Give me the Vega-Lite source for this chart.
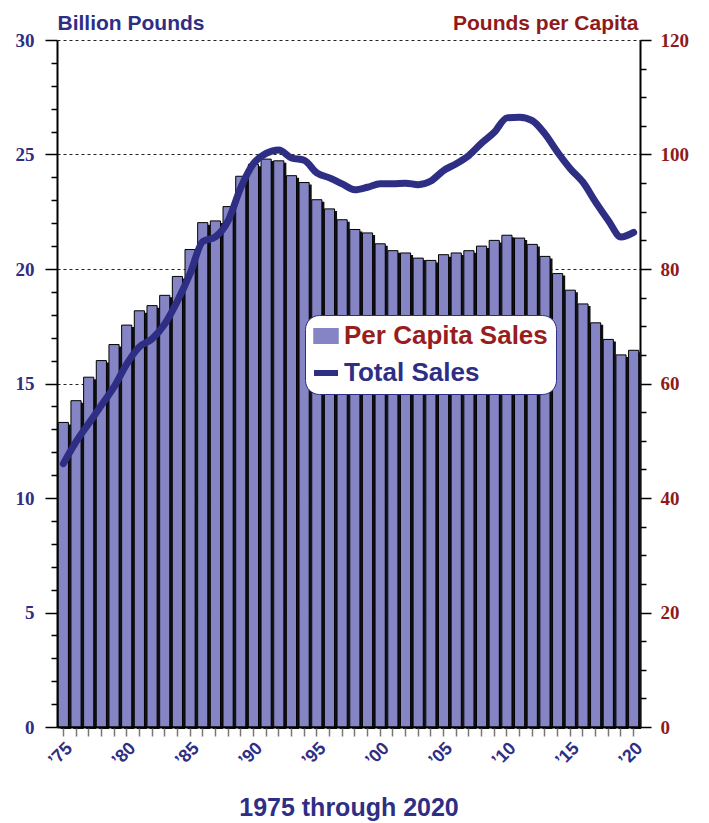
{
  "$schema": "https://vega.github.io/schema/vega-lite/v6.json",
  "width": 583,
  "height": 687,
  "autosize": {"type": "none"},
  "padding": {"left": 57, "top": 40, "right": 69, "bottom": 96},
  "background": "white",
  "config": {"view": {"stroke": null}},
  "data": {"values": [
    {"year": 1975, "perCapita": 53.2, "total": 11.5},
    {"year": 1976, "perCapita": 57.0, "total": 12.45},
    {"year": 1977, "perCapita": 61.1, "total": 13.25},
    {"year": 1978, "perCapita": 64.0, "total": 14.05},
    {"year": 1979, "perCapita": 66.8, "total": 14.85},
    {"year": 1980, "perCapita": 70.2, "total": 15.85},
    {"year": 1981, "perCapita": 72.7, "total": 16.6},
    {"year": 1982, "perCapita": 73.6, "total": 16.95},
    {"year": 1983, "perCapita": 75.4, "total": 17.6},
    {"year": 1984, "perCapita": 78.7, "total": 18.6},
    {"year": 1985, "perCapita": 83.4, "total": 19.8},
    {"year": 1986, "perCapita": 88.1, "total": 21.2},
    {"year": 1987, "perCapita": 88.4, "total": 21.4},
    {"year": 1988, "perCapita": 90.9, "total": 22.1},
    {"year": 1989, "perCapita": 96.2, "total": 23.55},
    {"year": 1990, "perCapita": 98.3, "total": 24.6},
    {"year": 1991, "perCapita": 99.2, "total": 25.05},
    {"year": 1992, "perCapita": 98.9, "total": 25.2},
    {"year": 1993, "perCapita": 96.3, "total": 24.85},
    {"year": 1994, "perCapita": 95.1, "total": 24.75},
    {"year": 1995, "perCapita": 92.1, "total": 24.2},
    {"year": 1996, "perCapita": 90.5, "total": 23.98},
    {"year": 1997, "perCapita": 88.6, "total": 23.72},
    {"year": 1998, "perCapita": 86.9, "total": 23.46},
    {"year": 1999, "perCapita": 86.3, "total": 23.57},
    {"year": 2000, "perCapita": 84.4, "total": 23.72},
    {"year": 2001, "perCapita": 83.2, "total": 23.72},
    {"year": 2002, "perCapita": 82.8, "total": 23.75},
    {"year": 2003, "perCapita": 81.9, "total": 23.68},
    {"year": 2004, "perCapita": 81.5, "total": 23.84},
    {"year": 2005, "perCapita": 82.5, "total": 24.3},
    {"year": 2006, "perCapita": 82.8, "total": 24.6},
    {"year": 2007, "perCapita": 83.2, "total": 24.96},
    {"year": 2008, "perCapita": 84.0, "total": 25.5},
    {"year": 2009, "perCapita": 85.0, "total": 25.97},
    {"year": 2010, "perCapita": 85.9, "total": 26.6},
    {"year": 2011, "perCapita": 85.4, "total": 26.63},
    {"year": 2012, "perCapita": 84.3, "total": 26.48},
    {"year": 2013, "perCapita": 82.2, "total": 25.9},
    {"year": 2014, "perCapita": 79.2, "total": 25.1},
    {"year": 2015, "perCapita": 76.3, "total": 24.38},
    {"year": 2016, "perCapita": 73.9, "total": 23.79},
    {"year": 2017, "perCapita": 70.6, "total": 22.92},
    {"year": 2018, "perCapita": 67.7, "total": 22.12},
    {"year": 2019, "perCapita": 65.0, "total": 21.4},
    {"year": 2020, "perCapita": 65.8, "total": 21.6}
  ]},
  "encoding": {
    "x": {
      "field": "year", "type": "ordinal",
      "scale": {"paddingInner": 0.2, "paddingOuter": 0.1},
      "axis": {
        "title": "1975 through 2020",
        "titleFont": "Liberation Sans", "titleFontWeight": "bold", "titleFontSize": 25,
        "titleColor": "#2e2e85", "titleBaseline": "alphabetic", "titleY": 88,
        "labelExpr": "datum.value % 5 === 0 ? '\u2019' + slice(toString(datum.value), 2) : ''",
        "labelAngle": -45, "labelAlign": "right", "labelBaseline": "top",
        "labelFont": "Liberation Sans", "labelFontWeight": "bold", "labelFontSize": 18,
        "labelColor": "#2e2e85", "labelPadding": 3,
        "tickSize": 9, "tickColor": "#777777", "tickWidth": 1.5,
        "domainColor": "black", "domainWidth": 2, "grid": false, "zindex": 1
      }
    }
  },
  "layer": [
    {
      "mark": {"type": "bar", "color": "#111111", "xOffset": 2.5, "yOffset": 2, "y2Offset": 0},
      "encoding": {
        "y": {"field": "perCapita", "type": "quantitative", "scale": {"domain": [0, 120], "nice": false}, "axis": null}
      }
    },
    {
      "mark": {"type": "bar", "stroke": "black", "strokeWidth": 1, "opacity": 1},
      "encoding": {
        "y": {
          "field": "perCapita", "type": "quantitative",
          "scale": {"domain": [0, 120], "nice": false},
          "axis": {
            "orient": "right",
            "title": "Pounds per Capita",
            "titleAngle": 0, "titleAlign": "right", "titleBaseline": "alphabetic",
            "titleX": -2, "titleY": -11,
            "titleFont": "Liberation Sans", "titleFontWeight": "bold", "titleFontSize": 21, "titleColor": "#8e1a1a",
            "values": [0,5,10,15,20,25,30,35,40,45,50,55,60,65,70,75,80,85,90,95,100,105,110,115,120],
            "labelExpr": "datum.value % 20 === 0 ? datum.label : ''",
            "labelFont": "Liberation Serif", "labelFontWeight": "bold", "labelFontSize": 19, "labelColor": "#8e1a1a",
            "labelPadding": 9,
            "tickSize": {"expr": "datum.value % 20 === 0 ? 11 : 6"},
            "tickColor": "black", "tickWidth": 1.5,
            "domainColor": "black", "domainWidth": 2, "grid": false
          }
        },
        "color": {
          "datum": "Per Capita Sales",
          "scale": {"domain": ["Per Capita Sales", "Total Sales"], "range": ["#8585c5", "#2e2e85"]},
          "legend": {
            "title": null, "orient": "none", "legendX": 248, "legendY": 275,
            "fillColor": "white", "strokeColor": "#2e2e85", "cornerRadius": 14, "padding": 8,
            "labelFont": "Liberation Sans", "labelFontWeight": "bold", "labelFontSize": 26,
            "labelOffset": 5, "rowPadding": 11, "symbolSize": 576, "labelLimit": 400,
            "labelColor": {"expr": "datum.value === 'Total Sales' ? '#2e2e85' : '#981e1e'"},
            "symbolType": {"expr": "datum.value === 'Total Sales' ? 'M-1,-0.25H1V0.25H-1Z' : 'M-1,-0.6H1V0.6H-1Z'"},
            "symbolFillColor": {"expr": "datum.value === 'Total Sales' ? '#2e2e85' : '#8585c5'"},
            "symbolStrokeColor": "black",
            "symbolStrokeWidth": {"expr": "datum.value === 'Total Sales' ? 0 : 1.5"},
            "symbolOpacity": 1
          }
        }
      }
    },
    {
      "mark": {"type": "line", "strokeWidth": 7, "interpolate": "monotone", "strokeCap": "round", "strokeJoin": "round"},
      "encoding": {
        "y": {
          "field": "total", "type": "quantitative",
          "scale": {"domain": [0, 30], "nice": false},
          "axis": {
            "orient": "left",
            "title": "Billion Pounds",
            "titleAngle": 0, "titleAlign": "left", "titleBaseline": "alphabetic",
            "titleX": 0, "titleY": -11,
            "titleFont": "Liberation Sans", "titleFontWeight": "bold", "titleFontSize": 21, "titleColor": "#2e2e85",
            "values": [0,1,2,3,4,5,6,7,8,9,10,11,12,13,14,15,16,17,18,19,20,21,22,23,24,25,26,27,28,29,30],
            "labelExpr": "datum.value % 5 === 0 ? datum.label : ''",
            "labelFont": "Liberation Serif", "labelFontWeight": "bold", "labelFontSize": 19, "labelColor": "#2e2e85",
            "labelPadding": 11,
            "tickSize": {"expr": "datum.value % 5 === 0 ? 12 : 6"},
            "tickColor": "black", "tickWidth": 1.5,
            "domainColor": "black", "domainWidth": 2,
            "grid": true, "gridColor": "#222222", "gridDash": [3, 3], "gridWidth": 1,
            "gridOpacity": {"expr": "datum.value % 5 === 0 && datum.value > 0 ? 1 : 0"}
          }
        },
        "color": {
          "datum": "Total Sales",
          "legend": {
            "title": null, "orient": "none", "legendX": 248, "legendY": 275,
            "fillColor": "white", "strokeColor": "#2e2e85", "cornerRadius": 14, "padding": 8,
            "labelFont": "Liberation Sans", "labelFontWeight": "bold", "labelFontSize": 26,
            "labelOffset": 5, "rowPadding": 11, "symbolSize": 576, "labelLimit": 400,
            "labelColor": {"expr": "datum.value === 'Total Sales' ? '#2e2e85' : '#981e1e'"},
            "symbolType": {"expr": "datum.value === 'Total Sales' ? 'M-1,-0.25H1V0.25H-1Z' : 'M-1,-0.6H1V0.6H-1Z'"},
            "symbolFillColor": {"expr": "datum.value === 'Total Sales' ? '#2e2e85' : '#8585c5'"},
            "symbolStrokeColor": "black",
            "symbolStrokeWidth": {"expr": "datum.value === 'Total Sales' ? 0 : 1.5"},
            "symbolOpacity": 1
          }
        }
      }
    }
  ],
  "resolve": {"scale": {"y": "independent"}}
}
